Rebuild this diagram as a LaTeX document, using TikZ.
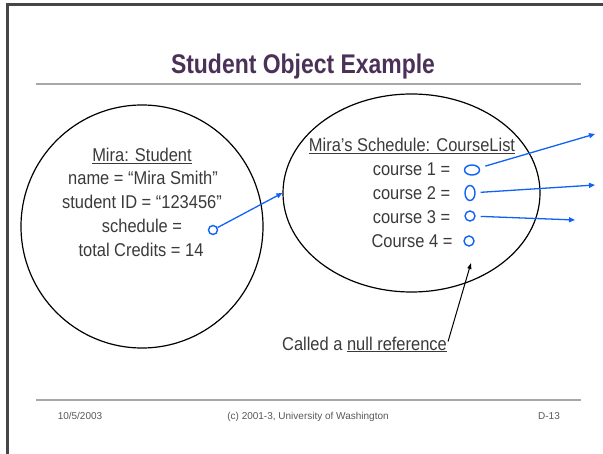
\documentclass[tikz,border=0pt]{standalone}
\usepackage{fontspec}
\setmainfont{Liberation Sans}
\newfontfamily\narrowfont{Liberation Sans}[FakeStretch=0.89]
\newfontfamily\titlefont{Liberation Sans}[FakeStretch=0.85]
\usetikzlibrary{shapes.geometric,arrows.meta}

\definecolor{slidetitle}{HTML}{4B3058}
\definecolor{slidetext}{HTML}{3A3A3A}
\definecolor{refblue}{HTML}{0F62F5}
\definecolor{rulegray}{HTML}{A8A8A8}
\definecolor{framegray}{HTML}{464646}

\tikzset{
  objcirc/.style={draw=black, line width=1.2bp, ellipse, inner sep=0pt},
  field/.style={text=slidetext, font=\narrowfont\fontsize{18.5bp}{22bp}\selectfont, anchor=base, inner sep=1bp},
  refdot/.style={draw=refblue, line width=1.4bp, ellipse, inner sep=0pt},
  refarrow/.style={draw=refblue, line width=1.3bp, -{Triangle[length=6bp,width=5bp]}},
  footer/.style={text=slidetext!85, font=\fontsize{10bp}{12bp}\selectfont, anchor=base}
}

\begin{document}
\begin{tikzpicture}[x=1bp,y=-1bp]
  \useasboundingbox (0,0) rectangle (603,454);
  %Slide frame and rules
  \draw[framegray, line width=3bp] (7,454) -- (7,5) -- (603,5);
  \draw[rulegray, line width=1.2bp] (36,84) -- (581,84);
  \draw[rulegray, line width=1.2bp] (36,400) -- (581,400);
  \node[text=slidetitle, font=\titlefont\bfseries\fontsize{27bp}{30bp}\selectfont] (title) at (303,67) {Student Object Example};

  %Student object
  \node[objcirc, minimum width=242bp, minimum height=243bp] (student) at (142,226.5) {};
  \node[field] (mira) at (142,162) {\underline{Mira: Student}};
  \node[field] (name) at (143,185) {name = “Mira Smith”};
  \node[field] (sid) at (142,209) {student ID = “123456”};
  \node[field] (schedfield) at (142,233) {schedule =};
  \node[field] (credits) at (141,257) {total Credits = 14};

  %CourseList object
  \node[objcirc, minimum width=257bp, minimum height=198bp] (sched) at (411.5,193) {};
  \node[field] (listhead) at (412,152) {\underline{Mira’s Schedule: CourseList}};
  \node[field] (course1) at (411.5,176) {course 1 =};
  \node[field] (course2) at (411.5,200) {course 2 =};
  \node[field] (course3) at (411.5,224) {course 3 =};
  \node[field] (course4) at (412,248) {Course 4 =};

  %References
  \node[refdot, minimum width=9bp, minimum height=9bp] (schedref) at (213,230) {};
  \node[refdot, minimum width=15bp, minimum height=10bp] (c1ref) at (472,170) {};
  \node[refdot, minimum width=10bp, minimum height=15bp] (c2ref) at (470,193) {};
  \node[refdot, minimum width=10bp, minimum height=10bp] (c3ref) at (470,216) {};
  \node[refdot, minimum width=10bp, minimum height=10bp] (c4ref) at (469,241) {};

  \coordinate (c1end) at (595,134);
  \coordinate (c2end) at (595,185);
  \coordinate (c3end) at (575,220);
  \draw[refarrow] (schedref) -- (sched.west);
  \draw[refarrow, shorten <=6bp] (c1ref) -- (c1end);
  \draw[refarrow, shorten <=5bp] (c2ref) -- (c2end);
  \draw[refarrow, shorten <=5bp] (c3ref) -- (c3end);

  %Null reference note
  \node[field] (nullnote) at (364.5,350) {Called a \underline{null reference}};
  \coordinate (nulltip) at (471,263);
  \draw[black, line width=1bp, -{Triangle[length=6bp,width=4bp]}] (nullnote.north east) ++(0,6) -- (nulltip);

  %Footer
  \node[footer] (date) at (80,419) {10/5/2003};
  \node[footer] (copy) at (308,419) {(c) 2001-3, University of Washington};
  \node[footer] (page) at (549,419) {D-13};
\end{tikzpicture}
\end{document}
